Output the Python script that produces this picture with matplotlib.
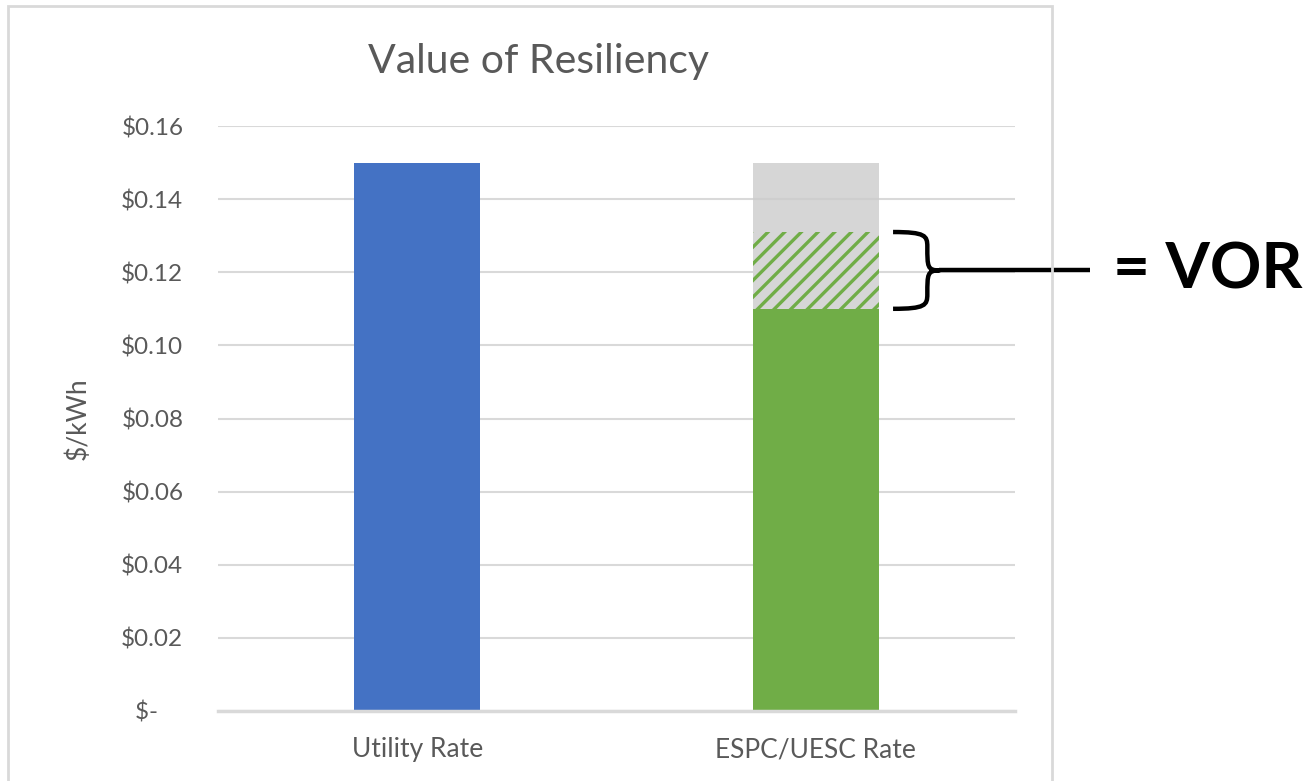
import matplotlib
matplotlib.use('Agg')
import matplotlib.pyplot as plt
import numpy as np
from matplotlib.patches import Rectangle, PathPatch
from matplotlib.path import Path
from matplotlib.ticker import FuncFormatter

plt.rcParams['font.family'] = ['Lato', 'DejaVu Sans']
plt.rcParams['hatch.linewidth'] = 2.4

# data
categories = ['Utility Rate', 'ESPC/UESC Rate']
utility_rate = [0.15, 0.0]
espc_rate = [0.0, 0.11]
vor = [0.0, 0.021]
remainder = [0.0, 0.019]
yticks = [0.0, 0.02, 0.04, 0.06, 0.08, 0.10, 0.12, 0.14, 0.16]

BLUE = '#4472C4'
GREEN = '#70AD47'
TXT = '#595959'
GRID = '#D9D9D9'

fig = plt.figure(figsize=(13.11, 7.81), dpi=100)
ax = fig.add_axes([218/1311, 1 - 711/781, (1015-218)/1311, (711-126)/781])

x = np.arange(len(categories)) + 0.5
w = 0.316

ax.bar(x, utility_rate, w, color=BLUE, zorder=2)
ax.bar(x, espc_rate, w, color=GREEN, zorder=2)
base2 = np.array(espc_rate)
ax.bar(x, vor, w, bottom=base2, facecolor='#D6D6D6', edgecolor=GREEN,
       hatch='//', linewidth=0, zorder=2)
base3 = base2 + np.array(vor)
ax.bar(x, remainder, w, bottom=base3, color='#CCCCCC', alpha=0.8, zorder=3)

ax.set_xlim(0, 2)
ax.set_ylim(0, 0.16)
ax.set_yticks(yticks)
ax.yaxis.set_major_formatter(FuncFormatter(
    lambda v, p: '$-    ' if abs(v) < 1e-9 else '${:.2f}'.format(v)))
ax.set_xticks(x)
ax.set_xticklabels(categories)
ax.tick_params(axis='both', length=0, labelcolor=TXT)
ax.tick_params(axis='y', pad=25, labelsize=17.5)
ax.tick_params(axis='x', pad=19, labelsize=19)
ax.grid(axis='y', color=GRID, linewidth=1.5, zorder=0)
ax.set_axisbelow(True)
for s in ['top', 'right', 'left']:
    ax.spines[s].set_visible(False)
ax.spines['bottom'].set_color(GRID)
ax.spines['bottom'].set_linewidth(2.5)

ax.set_ylabel('$/kWh', fontsize=19, color=TXT, labelpad=22)
fig.text(538/1311, 1 - 62/781, 'Value of Resiliency', fontsize=29.5,
         color=TXT, ha='center', va='center')

# curly bracket for the VOR section
lo = espc_rate[1]
hi = espc_rate[1] + vor[1]
mid = (lo + hi) / 2
x0, x1, x2 = 1.694, 1.775, 1.81
verts = [(x0, hi), (x1, hi), (x1 + 0.005, hi - 0.001), (x1 + 0.005, hi - 0.004),
         (x1 + 0.005, mid + 0.001), (x1 + 0.005, mid), (x2, mid),
         (x1 + 0.005, mid), (x1 + 0.005, mid - 0.001), (x1 + 0.005, lo + 0.004),
         (x1 + 0.005, lo + 0.001), (x1, lo), (x0, lo)]
codes = [Path.MOVETO, Path.CURVE4, Path.CURVE4, Path.CURVE4,
         Path.CURVE4, Path.CURVE4, Path.CURVE4,
         Path.CURVE4, Path.CURVE4, Path.CURVE4,
         Path.CURVE4, Path.CURVE4, Path.CURVE4]
ax.add_patch(PathPatch(Path(verts, codes), fill=False, lw=3.2, color='black',
                       clip_on=False, capstyle='butt', joinstyle='round'))
ax.plot([x2, 2.188], [mid, mid], color='black', lw=3.2, clip_on=False,
        solid_capstyle='butt')
ax.text(2.245, mid, '= VOR', fontsize=46, fontweight='bold', color='black',
        ha='left', va='center', clip_on=False)

# chart frame
fig.add_artist(Rectangle((8/1311, -0.02), (1052-8)/1311, 1.02 - 6/781,
                         transform=fig.transFigure, fill=False,
                         edgecolor=GRID, linewidth=2))

fig.savefig('out.png', dpi=100)
